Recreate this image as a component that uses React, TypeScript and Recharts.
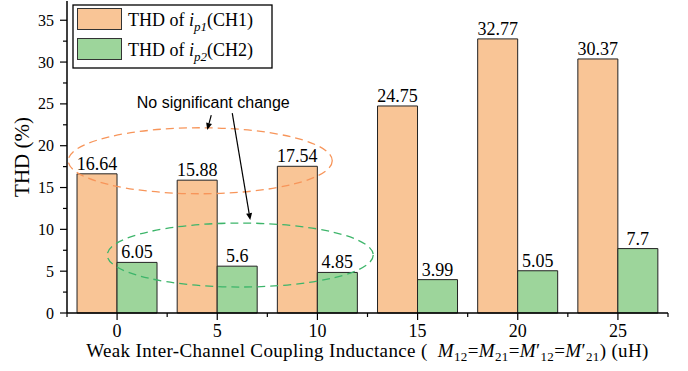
import React from "react";
import {Bar, BarChart, LabelList, Label, ReferenceDot, XAxis, YAxis} from "recharts";

const categories = ["0", "5", "10", "15", "20", "25"];
const ch1 = [16.64, 15.88, 17.54, 24.75, 32.77, 30.37];
const ch2 = [6.05, 5.6, 4.85, 3.99, 5.05, 7.7];
const yTicks = [0, 2.5, 5, 7.5, 10, 12.5, 15, 17.5, 20, 22.5, 25, 27.5, 30, 32.5, 35];

const data = categories.map((c, i) => ({cat: c, ch1: ch1[i], ch2: ch2[i]}));

const SERIF = "'Liberation Serif', 'Times New Roman', serif";
const SANS = "'Liberation Sans', Arial, sans-serif";
const ORANGE = "#F9C596";
const GREEN = "#9DD59B";

const YTick = (props: any) => {
    const {x, y, payload} = props;
    const major = payload.value % 5 === 0;
    return (
        <g>
            <line x1={x} x2={x - (major ? 7 : 4)} y1={y} y2={y} stroke="#000" strokeWidth={1.2}/>
            {major && (
                <text x={x - 13} y={y} dy={5.5} textAnchor="end" fontSize={16} fontFamily={SERIF} fill="#000">
                    {payload.value}
                </text>
            )}
        </g>
    );
};

const XTick = (props: any) => {
    const {x, y, payload} = props;
    const half = payload.offset ?? 50;
    return (
        <g>
            <line x1={x} x2={x} y1={y} y2={y + 7} stroke="#000" strokeWidth={1.2}/>
            <line x1={x - half} x2={x - half} y1={y} y2={y + 4} stroke="#000" strokeWidth={1.2}/>
            {payload.value === "25" && <line x1={x + half} x2={x + half} y1={y} y2={y + 4} stroke="#000" strokeWidth={1.2}/>}
            <text x={x} y={y} dy={24} textAnchor="middle" fontSize={18} fontFamily={SERIF} fill="#000">
                {payload.value}
            </text>
        </g>
    );
};

// arrow with filled head
function arrow(x1: number, y1: number, x2: number, y2: number) {
    const a = Math.atan2(y2 - y1, x2 - x1);
    const len = 7, w = 3;
    const bx = x2 - len * Math.cos(a), by = y2 - len * Math.sin(a);
    const px = -Math.sin(a) * w, py = Math.cos(a) * w;
    return (
        <g>
            <line x1={x1} y1={y1} x2={bx} y2={by} stroke="#000" strokeWidth={1.2}/>
            <polygon points={`${x2},${y2} ${bx + px},${by + py} ${bx - px},${by - py}`} fill="#000"/>
        </g>
    );
}

const ellipse = (dx: number, rx: number, ry: number, color: string) => (p: any) => (
    <ellipse cx={p.cx + dx} cy={p.cy} rx={rx} ry={ry} fill="none" stroke={color} strokeWidth={1.3} strokeDasharray="8 5"/>
);

const noteShape = (p: any) => (
    <g>
        <text x={p.cx - 4} y={p.cy} textAnchor="middle" fontSize={16} fontFamily={SANS} fill="#000">
            No significant change
        </text>
        {arrow(p.cx - 6, p.cy + 7, p.cx - 10, p.cy + 22)}
        {arrow(p.cx + 15, p.cy + 5, p.cx + 33, p.cy + 112)}
    </g>
);

const XLabel = (props: any) => {
    const {viewBox} = props;
    const cx = viewBox.x + viewBox.width / 2;
    const sub = {fontSize: 13, fontStyle: "normal" as const};
    return (
        <text x={cx} y={viewBox.y + 44} textAnchor="middle" fontSize={19} letterSpacing={0.35} fontFamily={SERIF}
              fill="#000">
            Weak Inter-Channel Coupling Inductance (
            <tspan fontStyle="italic">{"\u00a0\u00a0M"}</tspan>
            <tspan {...sub} dy={4}>12</tspan>
            <tspan dy={-4}>=</tspan>
            <tspan fontStyle="italic">M</tspan>
            <tspan {...sub} dy={4}>21</tspan>
            <tspan dy={-4}>=</tspan>
            <tspan fontStyle="italic">M</tspan>
            <tspan>′</tspan>
            <tspan {...sub} dy={4}>12</tspan>
            <tspan dy={-4}>=</tspan>
            <tspan fontStyle="italic">M</tspan>
            <tspan>′</tspan>
            <tspan {...sub} dy={4}>21</tspan>
            <tspan dy={-4}>) (uH)</tspan>
        </text>
    );
};

const YLabel = (props: any) => {
    const {viewBox} = props;
    const cy = viewBox.y + viewBox.height / 2;
    return (
        <text x={22} y={cy} transform={`rotate(-90, 22, ${cy})`} dy={7} textAnchor="middle" fontSize={21}
              fontFamily={SERIF} fill="#000">
            THD (%)
        </text>
    );
};

function LegendBox() {
    const items = [{color: ORANGE, idx: "p", n: "1", ch: "(CH1)"}, {color: GREEN, idx: "p", n: "2", ch: "(CH2)"}];
    return (
        <svg width={202} height={66} style={{position: "absolute", left: 72, top: 4}}>
            <rect x={1} y={1} width={199} height={63} fill="#fff" stroke="#000" strokeWidth={1.3}/>
            {items.map((it, i) => (
                <g key={i}>
                    <rect x={5.5} y={4.5 + i * 30} width={44} height={21} fill={it.color} stroke="#333" strokeWidth={1}/>
                    <text x={56} y={22 + i * 30} fontSize={18} fontFamily={SERIF} fill="#000">
                        THD of <tspan fontStyle="italic">i</tspan>
                        <tspan fontSize={13} fontStyle="italic" dy={5}>{it.idx + it.n}</tspan>
                        <tspan dy={-5}>{it.ch}</tspan>
                    </text>
                </g>
            ))}
        </svg>
    );
}

export default function App() {
    return (
        <div style={{position: "absolute", left: 0, top: 0, width: 688, height: 371, background: "#fff"}}>
            <BarChart width={688} height={371} data={data} margin={{top: 1, right: 20, bottom: 0, left: 0}}
                      barCategoryGap="10%" barGap={0}>
                <XAxis dataKey="cat" height={58} interval={0} tickSize={0} tickMargin={0} tick={<XTick/>}
                       axisLine={{stroke: "#000", strokeWidth: 1.6}} tickLine={false}>
                    <Label content={<XLabel/>}/>
                </XAxis>
                <XAxis xAxisId="top" dataKey="cat" orientation="top" height={0} tick={false} tickLine={false}
                       axisLine={{stroke: "#999", strokeWidth: 1}}/>
                <YAxis width={67} domain={[0, 37.3]} ticks={yTicks} interval={0} tickSize={0} tickMargin={0}
                       tick={<YTick/>} tickLine={false} axisLine={{stroke: "#000", strokeWidth: 1.5}}>
                    <Label content={<YLabel/>}/>
                </YAxis>
                <YAxis yAxisId="right" orientation="right" width={0} domain={[0, 37.3]} tick={false} tickLine={false}
                       axisLine={{stroke: "#000", strokeWidth: 1.5}}/>
                <Bar dataKey="ch1" fill={ORANGE} stroke="#222" strokeWidth={1} isAnimationActive={false}>
                    <LabelList dataKey="ch1" position="top" offset={4} fontSize={18} fontFamily={SERIF} fill="#000"/>
                </Bar>
                <Bar dataKey="ch2" fill={GREEN} stroke="#222" strokeWidth={1} isAnimationActive={false}>
                    <LabelList dataKey="ch2" position="top" offset={4} fontSize={18} fontFamily={SERIF} fill="#000"/>
                </Bar>
                <ReferenceDot x="5" y={18.2} ifOverflow="visible" shape={ellipse(-17, 132, 33, "#F7955A")}/>
                <ReferenceDot x="5" y={6.93} ifOverflow="visible" shape={ellipse(23, 133, 32, "#3DB56A")}/>
                <ReferenceDot x="5" y={24.5} ifOverflow="visible" shape={noteShape}/>
            </BarChart>
            <LegendBox/>
        </div>
    );
}
